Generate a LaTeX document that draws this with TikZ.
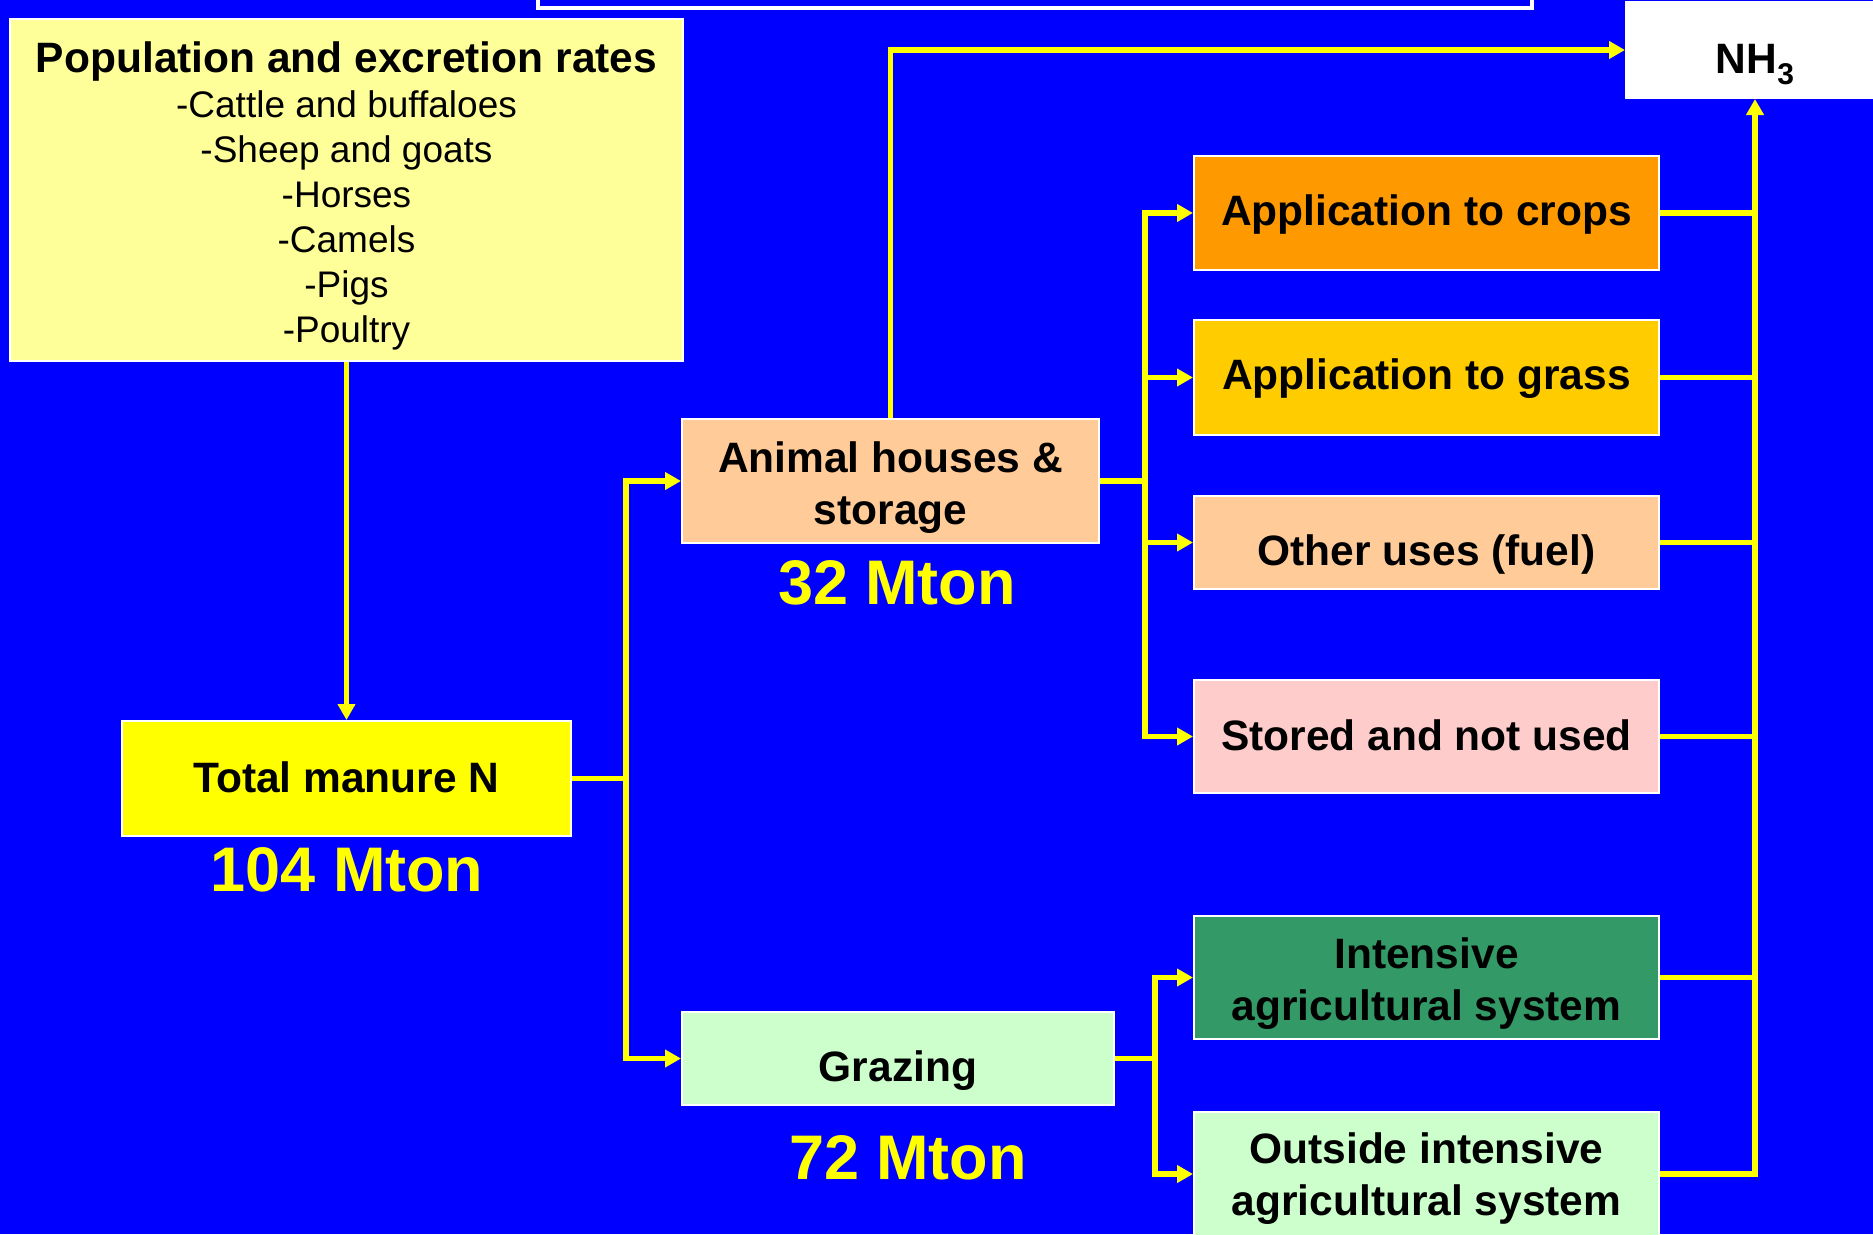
\documentclass[tikz,border=0pt]{standalone}
\usepackage{fontspec}
\setmainfont{Liberation Sans}
\usetikzlibrary{arrows.meta}
\definecolor{bgblue}{HTML}{0000FF}
\definecolor{cpop}{HTML}{FFFF99}
\definecolor{ctotal}{HTML}{FFFF00}
\definecolor{canimal}{HTML}{FFCC99}
\definecolor{cgraze}{HTML}{CCFFCC}
\definecolor{ccrops}{HTML}{FF9900}
\definecolor{cgrass}{HTML}{FFCC00}
\definecolor{cother}{HTML}{FFCC99}
\definecolor{cstored}{HTML}{FFCCCC}
\definecolor{cintens}{HTML}{339966}
\definecolor{cline}{HTML}{FFFF00}
\newcommand{\boldtxt}{\fontsize{42.5}{52}\selectfont\bfseries}
\newcommand{\itemtxt}{\fontsize{37}{45}\selectfont\mdseries}
\newcommand{\bigtxt}{\fontsize{63}{70}\selectfont\bfseries}
\newcommand{\twoln}[1]{\begin{tabular}[t]{@{}c@{}}#1\end{tabular}}
\tikzset{
  box/.style={draw=white, line width=2pt, inner sep=0pt, text=black, font=\boldtxt},
  rbox/.style={box, minimum width=465pt},
  th/.style={text height=#1, text depth=0pt},
  thd/.style 2 args={text height=#1, text depth=#2},
  conn/.style={draw=cline, line width=5.5pt},
  arr/.style={conn, -{Triangle[length=16pt,width=17pt]}},
  mton/.style={text=cline, font=\bigtxt, inner sep=0pt}
}
\begin{document}
\begin{tikzpicture}[x=1pt,y=-1pt]
\fill[bgblue] (0,0) rectangle (1873,1234);
\useasboundingbox (0,0) rectangle (1873,1234);
% top white frame
\node[draw=white, line width=4pt, minimum width=994pt, minimum height=40pt, inner sep=0pt] (topframe) at (1035,-12) {};
% nodes
\node[box, fill=cpop, minimum width=673pt, minimum height=342pt, font=\itemtxt, thd={30pt}{266pt}] (pop) at (346.5,190)
  {\twoln{{\bfseries\fontsize{42.5}{45}\selectfont Population and excretion rates}\\
   -Cattle and buffaloes\\ -Sheep and goats\\ -Horses\\ -Camels\\ -Pigs\\ -Poultry}};
\node[box, fill=ctotal, minimum width=449pt, minimum height=115pt, th=27pt] (total) at (346.5,778.5) {Total manure N};
\node[mton] (t104) at (347,870) {104 Mton};
\node[box, fill=canimal, minimum width=417pt, minimum height=124pt, thd={30pt}{48pt}] (animal) at (890.5,481) {\twoln{Animal houses \&\\storage}};
\node[mton] (t32) at (897,583) {32 Mton};
\node[box, fill=cgraze, minimum width=432pt, minimum height=93pt, th=46pt] (grazing) at (898,1058.5) {Grazing};
\node[mton] (t72) at (908,1158) {72 Mton};
\node[rbox, fill=ccrops, minimum height=114pt, th=25pt] (crops) at (1426.5,213) {Application to crops};
\node[rbox, fill=cgrass, minimum height=115pt, th=23pt] (grass) at (1426.5,377.5) {Application to grass};
\node[rbox, fill=cother, minimum height=93pt, th=46pt] (other) at (1426.5,542.5) {Other uses (fuel)};
\node[rbox, fill=cstored, minimum height=113pt, th=27pt] (stored) at (1426.5,736.5) {Stored and not used};
\node[rbox, fill=cintens, minimum height=123pt, thd={30pt}{49pt}] (intens) at (1426.5,977.5) {\twoln{Intensive\\agricultural system}};
\node[rbox, fill=cgraze, minimum height=124pt, thd={30pt}{52pt}] (outside) at (1426.5,1174) {\twoln{Outside intensive\\agricultural system}};
\node[box, fill=white, minimum width=258pt, minimum height=96pt, th=46pt] (nh3) at (1755,50)
  {NH\raisebox{-0.28em}{\fontsize{30}{30}\selectfont\bfseries 3}};
% junctions
\coordinate (jt) at (626,778.5);
\coordinate (ja) at (1145,481);
\coordinate (jg) at (1155,1058.5);
% connectors
\draw[arr] (pop.south) -- (total.north);
\draw[arr] (total.east) -- (jt) |- (animal.west);
\draw[arr] (jt) |- (grazing.west);
\draw[arr] (animal.north) |- (nh3.west);
\draw[arr] (animal.east) -- (ja) |- (crops.west);
\draw[arr] (ja) |- (grass.west);
\draw[arr] (ja) |- (other.west);
\draw[arr] (ja) |- (stored.west);
\draw[arr] (grazing.east) -- (jg) |- (intens.west);
\draw[arr] (jg) |- (outside.west);
\draw[arr] (outside.east) -| (nh3.south);
\draw[conn] (crops.east) -- (crops.east -| nh3.south);
\draw[conn] (grass.east) -- (grass.east -| nh3.south);
\draw[conn] (other.east) -- (other.east -| nh3.south);
\draw[conn] (stored.east) -- (stored.east -| nh3.south);
\draw[conn] (intens.east) -- (intens.east -| nh3.south);
\end{tikzpicture}
\end{document}
